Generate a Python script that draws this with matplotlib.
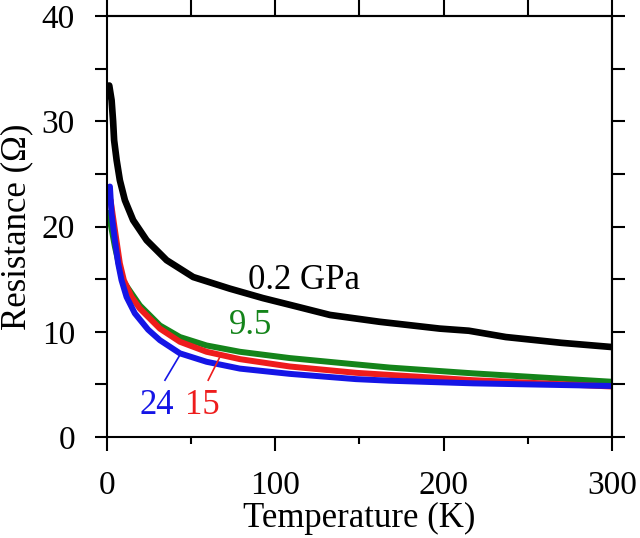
import matplotlib.pyplot as plt
import numpy as np

plt.rcParams['font.family'] = ['Liberation Serif', 'DejaVu Serif']

# Values (T in K, R in ohm)
t_black = [1.4, 2.8, 3.7, 4.3, 5.8, 7.7, 10.7, 15.6, 23.6, 35.5, 51.3, 73, 92.7, 112.7,
           132.5, 162, 197.8, 215, 237, 270, 300]
r_black = [33.4, 32.0, 30.0, 28.2, 26.3, 24.4, 22.5, 20.6, 18.7, 16.8, 15.2, 14.1, 13.2,
           12.4, 11.6, 10.95, 10.3, 10.1, 9.5, 8.95, 8.55]

t_green = [1.0, 4.75, 9.3, 19.6, 31.5, 43.4, 59.2, 79, 108.7, 148, 168, 217.5, 300]
r_green = [21.3, 18.1, 14.9, 12.5, 10.6, 9.5, 8.7, 8.1, 7.5, 6.9, 6.6, 6.05, 5.25]

t_red = [2.2, 4.75, 7.7, 10.1, 14.7, 19.6, 31.5, 43.4, 59.2, 79, 108.7, 148, 168, 217.5, 300]
r_red = [22.5, 19.7, 16.5, 14.9, 13.3, 12.2, 10.3, 9.05, 8.1, 7.4, 6.7, 6.1, 5.9, 5.4, 4.8]

t_blue = [1.8, 2.8, 4.75, 6.7, 8.7, 11.7, 16.6, 24.5, 31.5, 43.4, 59.2, 79, 108.7, 148,
          168, 217.5, 300]
r_blue = [23.8, 21.2, 18.7, 16.5, 14.9, 13.3, 11.75, 10.2, 9.2, 7.95, 7.15, 6.5, 6.0, 5.5,
          5.35, 5.1, 4.85]

black = 'black'
green = '#14841a'
red = '#ee1c1c'
blue = '#1515e6'

series = [
    (t_black, r_black, black, 4.8),
    (t_green, r_green, green, 4.3),
    (t_red, r_red, red, 4.3),
    (t_blue, r_blue, blue, 4.3),
]

fig = plt.figure(figsize=(6.4, 5.38), dpi=100)
ax = fig.add_axes([0.167, 0.1877, 0.789, 0.7825])

for t, r, c, w in series:
    ax.plot(t, r, color=c, lw=w, solid_capstyle='round', solid_joinstyle='round')

ax.set_xlim(0, 300)
ax.set_ylim(0, 40)

for s in ax.spines.values():
    s.set_linewidth(1.5)

# bottom / left ticks
ax.set_xticks([0, 100, 200, 300])
ax.set_xticks([50, 150, 250], minor=True)
ax.set_yticks([0, 10, 20, 30, 40])
ax.set_yticks([5, 15, 25, 35], minor=True)
ax.tick_params(axis='x', which='major', direction='out', length=10, width=1.5,
               labelsize=24, pad=14)
ax.tick_params(axis='x', which='minor', direction='out', length=5, width=1.5)
ax.tick_params(axis='y', which='both', direction='out', length=9, width=1.5,
               labelsize=24, pad=14)

# top / right ticks
top = ax.secondary_xaxis('top')
top.set_xticks([0, 50, 100, 150, 200, 250, 300])
top.tick_params(direction='out', length=12, width=1.5, labeltop=False)
top.spines['top'].set_linewidth(1.5)
right = ax.secondary_yaxis('right')
right.set_yticks(np.arange(0, 41, 5))
right.tick_params(direction='out', length=9, width=1.5, labelright=False)
right.spines['right'].set_linewidth(1.5)

ax.set_xlabel('Temperature (K)', fontsize=25, labelpad=1)
ax.set_ylabel('Resistance (\u03a9)', fontsize=25, labelpad=6)

# curve labels
ax.text(83.8, 14.9, '0.2 GPa', fontsize=25, color=black, va='center', ha='left')
ax.text(72.5, 10.6, '9.5', fontsize=25, color=green, va='center', ha='left')
ax.text(19.4, 3.0, '24', fontsize=25, color=blue, va='center', ha='left')
ax.text(46.6, 3.0, '15', fontsize=25, color=red, va='center', ha='left')
ax.plot([34.5, 43.4], [5.4, 7.8], color=blue, lw=1.2)
ax.plot([60.2, 67.1], [5.4, 7.6], color=red, lw=1.2)

fig.savefig('out.png', dpi=100)
